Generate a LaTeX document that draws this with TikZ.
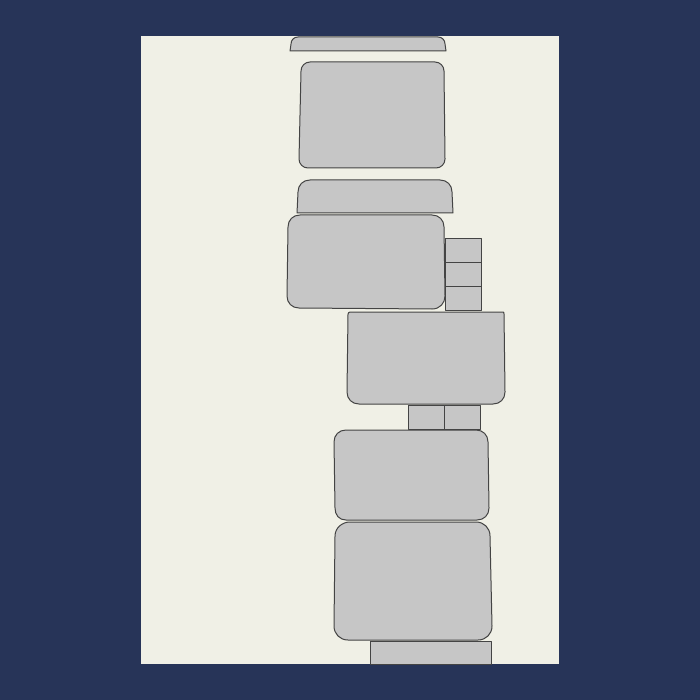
\documentclass[tikz,border=0pt]{standalone}
\definecolor{navy}{RGB}{39,52,88}
\definecolor{paper}{RGB}{240,240,230}
\definecolor{blockgray}{RGB}{198,198,198}
\definecolor{edgegray}{RGB}{68,68,68}
\begin{document}
\begin{tikzpicture}[x=1pt,y=-1pt,
  block/.style={fill=blockgray,draw=edgegray,line width=1pt,line join=round}]
\useasboundingbox (0,0) rectangle (700,700);
\fill[navy] (0,0) rectangle (700,700);
\fill[paper] (141,36) rectangle (559,664);
% top cap
\draw[block] (290,51) -- (291,44) .. controls (291,40) and (294,37) .. (298,37) -- (438,37) .. controls (442,37) and (445,40) .. (445,44) -- (446,51) -- cycle;
% box 2
\draw[block] (310,62) -- (435,62) .. controls (440,62) and (444,66) .. (444,71) -- (445,159) .. controls (445,164) and (441,168) .. (436,168) -- (308,168) .. controls (303,168) and (299,164) .. (299,159) -- (301,71) .. controls (301,66) and (305,62) .. (310,62) -- cycle;
% cap 3
\draw[block] (297,213) -- (298,192) .. controls (298,185) and (303,180) .. (310,180) -- (440,180) .. controls (447,180) and (452,185) .. (452,192) -- (453,213) -- cycle;
% box 4
\draw[block] (300,215) -- (432,215) .. controls (439,215) and (444,220) .. (444,227) -- (445,296) .. controls (445,303) and (440,309) .. (432,309) -- (299,308) .. controls (292,308) and (287,303) .. (287,296) -- (288,227) .. controls (288,220) and (293,215) .. (300,215) -- cycle;
% small stack
\draw[block] (445,239) rectangle (481,262);
\draw[block] (445,262) rectangle (481,286);
\draw[block] (445,286) rectangle (481,310);
% box 6
\draw[block] (350,312) -- (503,312) .. controls (504,312) and (504,313) .. (504,314) -- (505,392) .. controls (505,399) and (500,404) .. (493,404) -- (359,404) .. controls (352,404) and (347,399) .. (347,392) -- (348,314) .. controls (348,313) and (349,312) .. (350,312) -- cycle;
% small pair
\draw[block] (408,405) rectangle (444,429);
\draw[block] (444,405) rectangle (480,429);
% box 8
\draw[block] (346,430) -- (476,430) .. controls (483,430) and (488,435) .. (488,442) -- (489,508) .. controls (489,515) and (484,520) .. (477,520) -- (346,520) .. controls (339,520) and (335,515) .. (335,508) -- (334,442) .. controls (334,435) and (339,430) .. (346,430) -- cycle;
% box 9
\draw[block] (350,522) -- (476,522) .. controls (484,522) and (490,528) .. (490,536) -- (492,626) .. controls (492,634) and (486,640) .. (478,640) -- (348,640) .. controls (340,640) and (334,634) .. (334,626) -- (335,536) .. controls (335,528) and (342,522) .. (350,522) -- cycle;
% bottom base
\draw[block] (370,641) rectangle (491,664);
\end{tikzpicture}
\end{document}
